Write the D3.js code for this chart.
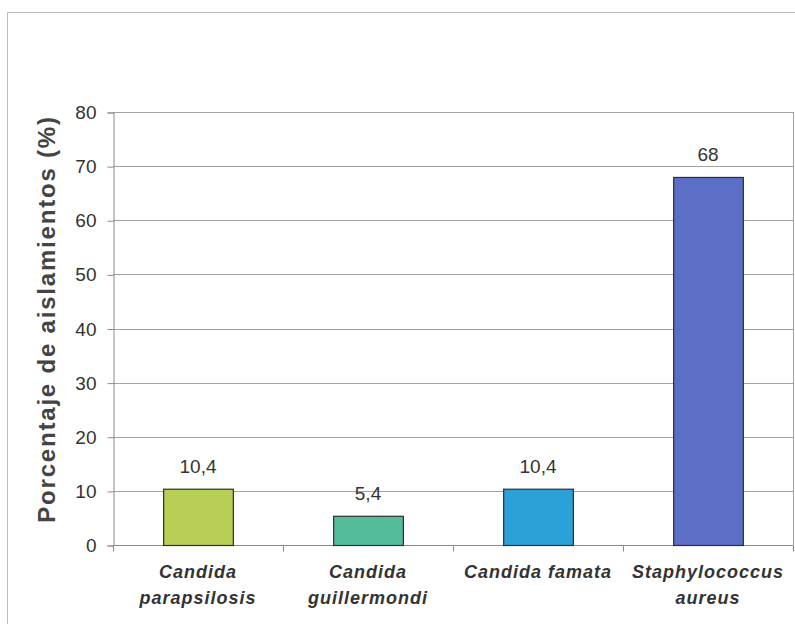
<!DOCTYPE html>
<html>
<head>
<meta charset="utf-8">
<script src="https://cdn.jsdelivr.net/npm/d3@7"></script>
<style>
  body { margin: 0; background: #fff; }
  svg text { font-family: "Liberation Sans", Arial, sans-serif; }
</style>
</head>
<body>
<svg width="795" height="624"></svg>
<script>
  // data
  var species = [
    ["Candida", "parapsilosis"],
    ["Candida", "guillermondi"],
    ["Candida famata"],
    ["Staphylococcus", "aureus"]
  ];
  var values = [10.4, 5.4, 10.4, 68];
  var valueLabels = ["10,4", "5,4", "10,4", "68"];
  var yTicks = [0, 10, 20, 30, 40, 50, 60, 70, 80];
  var colors = ["#b7cf55", "#55bc9b", "#2ba1d8", "#5c6fc6"];

  var svg = d3.select("svg");

  // outer frame (only top and left show)
  svg.append("path")
    .attr("d", "M7.5,624V12.5H795")
    .attr("fill", "none")
    .attr("stroke", "#bdbdbd");

  var plotLeft = 113, plotRight = 793, plotTop = 112, plotBottom = 545;

  var x = d3.scaleBand()
    .domain(d3.range(values.length))
    .range([plotLeft, plotRight])
    .paddingInner(0.59)
    .paddingOuter(0.295);

  var y = d3.scaleLinear()
    .domain([0, 80])
    .range([plotBottom, plotTop]);

  // gridlines
  svg.append("g")
    .selectAll("line")
    .data(yTicks.slice(1))
    .enter().append("line")
    .attr("x1", plotLeft).attr("x2", plotRight)
    .attr("y1", function(d) { return Math.round(y(d)) + 0.5; })
    .attr("y2", function(d) { return Math.round(y(d)) + 0.5; })
    .attr("stroke", "#a3a3a3");

  // right border of plot
  svg.append("line")
    .attr("x1", plotRight + 0.5).attr("x2", plotRight + 0.5)
    .attr("y1", plotTop).attr("y2", plotBottom)
    .attr("stroke", "#a3a3a3");

  // y axis
  var yAxis = svg.append("g")
    .attr("transform", "translate(" + (plotLeft + 0.5) + ",0.5)")
    .call(d3.axisLeft(y).tickValues(yTicks).tickSize(6).tickPadding(11));
  yAxis.select(".domain").attr("stroke", "#8a8a8a");
  yAxis.selectAll(".tick line").attr("stroke", "#8a8a8a");
  yAxis.selectAll(".tick text")
    .attr("font-size", 19)
    .attr("fill", "#333")
    .style("font-family", "'Liberation Sans', Arial, sans-serif");

  // x axis
  var xAxis = svg.append("g")
    .attr("transform", "translate(0," + (plotBottom + 0.5) + ")");
  xAxis.append("line")
    .attr("x1", plotLeft).attr("x2", plotRight)
    .attr("stroke", "#8a8a8a");
  xAxis.selectAll(".xtick")
    .data(d3.range(values.length + 1))
    .enter().append("line")
    .attr("x1", function(i) { return Math.round(plotLeft + i * x.step()) + 0.5; })
    .attr("x2", function(i) { return Math.round(plotLeft + i * x.step()) + 0.5; })
    .attr("y1", 0).attr("y2", 6)
    .attr("stroke", "#8a8a8a");

  // bars
  svg.append("g")
    .selectAll("rect")
    .data(values)
    .enter().append("rect")
    .attr("x", function(d, i) { return x(i) + 0.5; })
    .attr("y", function(d) { return y(d) + 0.5; })
    .attr("width", x.bandwidth())
    .attr("height", function(d) { return y(0) - y(d); })
    .attr("fill", function(d, i) { return colors[i]; })
    .attr("stroke", "#2e2e2e")
    .attr("stroke-width", 1.2);

  // value labels
  svg.append("g")
    .selectAll("text")
    .data(values)
    .enter().append("text")
    .attr("x", function(d, i) { return x(i) + x.bandwidth() / 2; })
    .attr("y", function(d) { return y(d) - 16; })
    .attr("text-anchor", "middle")
    .attr("font-size", 19)
    .attr("fill", "#333")
    .text(function(d, i) { return valueLabels[i]; });

  // category labels
  var cat = svg.append("g")
    .selectAll("text")
    .data(species)
    .enter().append("text")
    .attr("x", function(d, i) { return x(i) + x.bandwidth() / 2; })
    .attr("y", 578)
    .attr("text-anchor", "middle")
    .attr("font-size", 18)
    .attr("font-weight", "bold")
    .attr("font-style", "italic")
    .attr("letter-spacing", 1)
    .attr("fill", "#333");
  cat.selectAll("tspan")
    .data(function(d) { return d; })
    .enter().append("tspan")
    .attr("x", function() { return d3.select(this.parentNode).attr("x"); })
    .attr("dy", function(d, i) { return i === 0 ? 0 : 26; })
    .text(function(d) { return d; });

  // y axis title
  svg.append("text")
    .attr("transform", "translate(55,319) rotate(-90)")
    .attr("text-anchor", "middle")
    .attr("font-size", 24)
    .attr("font-weight", "bold")
    .attr("letter-spacing", 1.8)
    .attr("fill", "#444")
    .text("Porcentaje de aislamientos (%)");
</script>
</body>
</html>
